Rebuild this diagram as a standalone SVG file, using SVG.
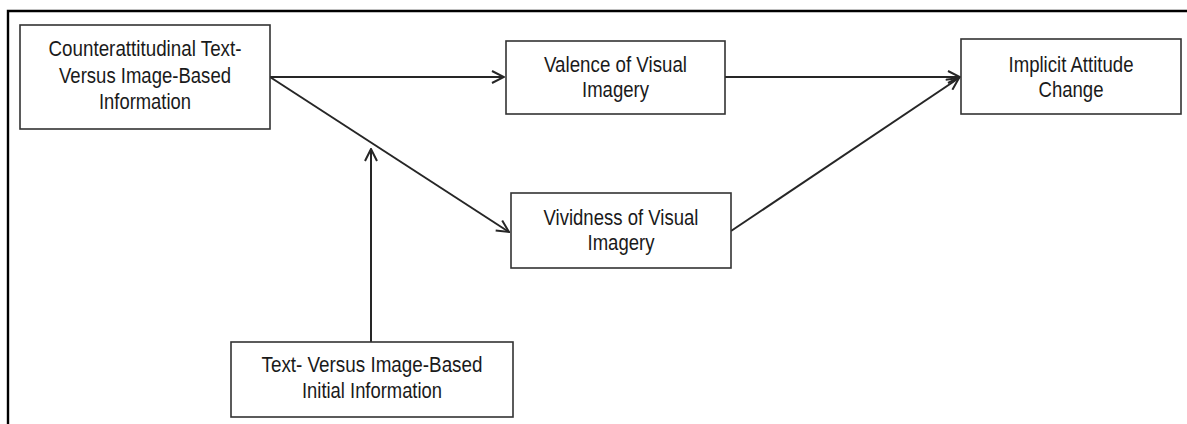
<svg xmlns="http://www.w3.org/2000/svg" width="1187" height="424" viewBox="0 0 1187 424">
  <style>
    .box { fill: #ffffff; stroke: #333333; stroke-width: 1.6; }
    .lbl { font-family: "Liberation Sans Narrow", "Liberation Sans", Arial, sans-serif; font-size: 22px; fill: #1a1a1a; text-anchor: middle; }
    .edge { fill: none; stroke: #262626; stroke-width: 2; }
    .frame { fill: none; stroke: #000000; stroke-width: 2.4; }
  </style>
  <defs>
    <marker id="open-arrow" viewBox="0 0 14 14" refX="13" refY="7" markerWidth="14" markerHeight="14" markerUnits="userSpaceOnUse" orient="auto">
      <path d="M1,1 L13,7 L1,13" fill="none" stroke="#262626" stroke-width="2" stroke-linejoin="miter"/>
    </marker>
  </defs>

  <rect width="1187" height="424" fill="#ffffff"/>
  <path class="frame" d="M8,424 V11 H1187"/>

  <g id="connectors">
    <line class="edge" x1="270" y1="77" x2="504" y2="77" marker-end="url(#open-arrow)"/>
    <line class="edge" x1="270" y1="77" x2="509" y2="232" marker-end="url(#open-arrow)"/>
    <line class="edge" x1="725" y1="77" x2="960" y2="77" marker-end="url(#open-arrow)"/>
    <line class="edge" x1="731" y1="231" x2="959" y2="78" marker-end="url(#open-arrow)"/>
    <line class="edge" x1="371" y1="342" x2="371" y2="149" marker-end="url(#open-arrow)"/>
  </g>

  <g id="node-counterattitudinal">
    <rect class="box" x="20" y="25" width="250" height="104"/>
    <text class="lbl" x="145" y="56" textLength="193" lengthAdjust="spacingAndGlyphs">Counterattitudinal Text-</text>
    <text class="lbl" x="145" y="83" textLength="172" lengthAdjust="spacingAndGlyphs">Versus Image-Based</text>
    <text class="lbl" x="145" y="109" textLength="92" lengthAdjust="spacingAndGlyphs">Information</text>
  </g>

  <g id="node-valence">
    <rect class="box" x="506" y="41" width="219" height="73"/>
    <text class="lbl" x="615.5" y="71.5" textLength="143" lengthAdjust="spacingAndGlyphs">Valence of Visual</text>
    <text class="lbl" x="615.5" y="96.5" textLength="67" lengthAdjust="spacingAndGlyphs">Imagery</text>
  </g>

  <g id="node-implicit-attitude">
    <rect class="box" x="961" y="39" width="220" height="75"/>
    <text class="lbl" x="1071" y="71.5" textLength="125" lengthAdjust="spacingAndGlyphs">Implicit Attitude</text>
    <text class="lbl" x="1071" y="96.5" textLength="65" lengthAdjust="spacingAndGlyphs">Change</text>
  </g>

  <g id="node-vividness">
    <rect class="box" x="511" y="193" width="220" height="75"/>
    <text class="lbl" x="621" y="225" textLength="155" lengthAdjust="spacingAndGlyphs">Vividness of Visual</text>
    <text class="lbl" x="621" y="250" textLength="67" lengthAdjust="spacingAndGlyphs">Imagery</text>
  </g>

  <g id="node-initial-information">
    <rect class="box" x="231" y="342" width="282" height="75"/>
    <text class="lbl" x="372" y="371.5" textLength="221" lengthAdjust="spacingAndGlyphs">Text- Versus Image-Based</text>
    <text class="lbl" x="372" y="398" textLength="140" lengthAdjust="spacingAndGlyphs">Initial Information</text>
  </g>
</svg>
